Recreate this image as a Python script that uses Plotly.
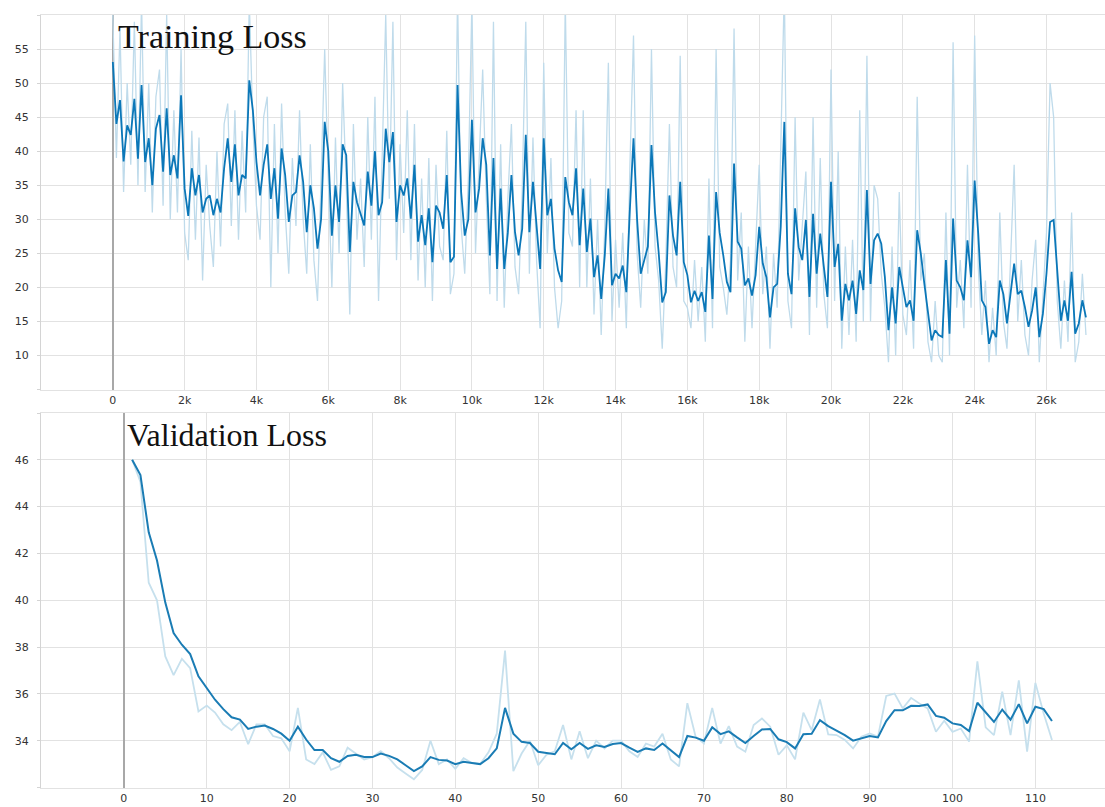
import plotly.graph_objects as go

# ---------------- data ----------------
train_steps = list(range(0, 27200, 100))

train_smoothed = [
    53.1, 44.0, 47.5, 38.5, 43.8, 42.4, 47.7, 38.9, 49.7, 38.4,
    41.9, 35.0, 43.3, 45.3, 37.0, 46.3, 36.5, 39.4, 36.0, 48.2,
    34.5, 30.5, 37.5, 33.5, 36.5, 31.0, 33.0, 33.5, 30.6, 33.0,
    31.0, 37.5, 41.9, 35.5, 41.0, 33.5, 36.5, 36.0, 50.4, 46.0,
    38.4, 33.5, 38.0, 41.0, 33.0, 37.5, 30.1, 40.4, 36.5, 29.6,
    33.5, 34.0, 39.4, 35.5, 28.1, 35.0, 31.6, 25.7, 30.0, 44.3,
    40.0, 27.6, 35.0, 29.6, 41.0, 39.4, 25.2, 35.5, 32.5, 30.6,
    29.1, 37.0, 32.0, 40.0, 30.6, 32.5, 43.3, 38.4, 42.8, 29.6,
    35.0, 33.5, 36.0, 30.1, 38.0, 26.7, 30.6, 26.2, 31.6, 23.7,
    32.0, 31.0, 28.6, 36.5, 23.7, 24.5, 49.7, 34.0, 27.6, 30.0,
    44.6, 31.0, 34.5, 41.9, 38.0, 24.7, 39.0, 22.7, 34.5, 22.7,
    28.0, 36.5, 28.1, 24.7, 28.6, 42.4, 28.1, 35.5, 28.6, 22.7,
    41.9, 30.6, 33.0, 25.7, 22.5, 20.8, 36.2, 32.5, 30.6, 37.5,
    26.2, 34.5, 25.2, 30.1, 21.5, 24.7, 18.3, 24.7, 34.5, 20.3,
    22.0, 21.3, 23.2, 19.3, 31.6, 41.9, 30.0, 22.0, 24.0, 26.0,
    40.9, 31.0, 25.2, 17.8, 19.3, 33.5, 27.6, 24.7, 35.5, 23.7,
    21.8, 17.8, 19.5, 18.0, 19.3, 16.4, 27.6, 18.3, 34.0, 28.0,
    24.7, 20.8, 19.3, 38.2, 26.7, 25.7, 20.3, 21.3, 18.8, 21.8,
    28.9, 23.5, 21.5, 15.6, 20.0, 20.5, 28.9, 44.3, 22.0, 19.0,
    31.6, 25.9, 24.0, 29.9, 18.6, 30.8, 22.0, 27.9, 23.0, 18.6,
    35.5, 23.0, 26.4, 15.1, 20.5, 18.1, 21.0, 16.1, 22.5, 19.6,
    34.3, 20.5, 26.9, 27.9, 26.4, 21.5, 13.7, 20.0, 14.7, 23.0,
    20.0, 17.1, 18.1, 15.1, 28.4, 25.0, 20.5, 16.6, 12.2, 13.7,
    13.0, 12.7, 24.0, 13.2, 30.1, 21.0, 20.0, 18.1, 26.9, 21.5,
    35.7, 27.9, 18.1, 17.1, 11.7, 13.7, 12.7, 21.0, 19.0, 14.7,
    19.5, 23.5, 19.0, 19.5, 17.1, 14.2, 16.6, 20.0, 12.7, 16.1,
    22.0, 29.6, 29.9, 22.0, 15.1, 18.1, 15.1, 22.3, 13.2, 14.7,
    18.1, 15.6,
]

train_raw = [
    60, 39, 58, 34, 50, 38, 59, 35, 62, 34,
    50, 31, 48, 52, 32, 60, 30, 46, 31, 55,
    28, 24, 43, 27, 42, 21, 38, 29, 23, 40,
    26, 44, 47, 29, 46, 27, 43, 31, 62, 44,
    32, 27, 45, 48, 20, 44, 25, 47, 31, 22,
    39, 29, 46, 30, 22, 41, 24, 18, 36, 55,
    36, 20, 42, 25, 50, 35, 16, 44, 27, 36,
    23, 45, 27, 48, 18, 38, 60, 33, 59, 24,
    41, 28, 46, 24, 44, 21, 36, 20, 39, 18,
    38, 26, 24, 43, 19, 22, 63, 29, 22, 36,
    62, 25, 40, 52, 33, 19, 59, 18, 41, 17,
    33, 44, 23, 19, 34, 59, 22, 42, 24, 14,
    53, 25, 39, 20, 14, 18, 62, 28, 26, 46,
    20, 46, 20, 36, 16, 30, 13, 29, 53, 15,
    27, 17, 28, 14, 38, 57, 25, 17, 30, 22,
    55, 26, 21, 11, 24, 44, 23, 20, 54, 18,
    17, 14, 24, 15, 23, 12, 36, 14, 55, 23,
    20, 16, 24, 58, 21, 31, 12, 26, 14, 27,
    38, 19, 26, 11, 25, 17, 40, 64, 18, 14,
    45, 21, 29, 37, 13, 45, 17, 39, 19, 14,
    52, 18, 40, 11, 26, 13, 27, 12, 46, 15,
    54, 15, 35, 33, 22, 17, 9, 26, 10, 34,
    16, 13, 24, 11, 48, 21, 25, 12, 9, 18,
    10, 9, 31, 10, 56, 17, 24, 14, 38, 17,
    57, 23, 13, 21, 9, 17, 10, 31, 15, 11,
    24, 38, 15, 24, 13, 10, 21, 27, 9, 19,
    28, 50, 45, 18, 11, 21, 12, 31, 9, 12,
    22, 13,
]

val_epochs = list(range(1, 113))

val_smoothed = [
    46.0, 45.35, 42.9, 41.7, 39.9, 38.6, 38.1, 37.7, 36.75, 36.25,
    35.75, 35.35, 35.0, 34.9, 34.5, 34.6, 34.65, 34.5, 34.3, 34.0,
    34.6, 34.05, 33.6, 33.6, 33.25, 33.1, 33.35, 33.4, 33.3, 33.3,
    33.45, 33.35, 33.2, 32.95, 32.7, 32.9, 33.3, 33.18, 33.15, 33.0,
    33.1, 33.05, 33.0, 33.25, 33.67, 35.4, 34.3, 33.95, 33.9, 33.53,
    33.46, 33.42, 33.9, 33.63, 33.9, 33.65, 33.8, 33.73, 33.86, 33.9,
    33.7, 33.52, 33.67, 33.6, 33.88, 33.6, 33.3, 34.2, 34.13, 34.0,
    34.57, 34.28, 34.4, 34.14, 33.9, 34.2, 34.48, 34.5, 34.06, 33.94,
    33.67, 34.28, 34.3, 34.88, 34.62, 34.43, 34.24, 34.0, 34.1, 34.2,
    34.14, 34.84, 35.3, 35.3, 35.49, 35.48, 35.55, 35.06, 34.98, 34.74,
    34.67, 34.41, 35.62, 35.2, 34.8, 35.33, 34.9, 35.56, 34.74, 35.45,
    35.35, 34.84,
]

val_raw = [
    46.0, 45.05, 40.75, 40.0, 37.6, 36.8, 37.5, 37.1, 35.25, 35.5,
    35.2, 34.7, 34.45, 34.8, 33.85, 34.7, 34.7, 34.2, 34.1, 33.55,
    35.4, 33.2, 33.0, 33.5, 32.75, 32.9, 33.7, 33.45, 33.2, 33.3,
    33.55, 33.25, 32.85, 32.6, 32.35, 32.75, 34.0, 33.0, 33.2, 32.8,
    33.25, 33.05, 33.0, 33.5, 34.3, 37.85, 32.7, 33.45, 34.0, 32.95,
    33.4, 33.55, 34.67, 33.2, 34.4, 33.25, 34.0, 33.67, 34.0, 34.0,
    33.55, 33.3, 33.88, 33.75, 34.3, 33.2, 32.9, 35.6, 34.17, 33.88,
    35.4, 33.88, 34.62, 33.75, 33.53, 34.67, 34.95, 34.6, 33.4, 33.8,
    33.2, 35.2, 34.45, 35.76, 34.27, 34.24, 34.03, 33.67, 34.17, 34.31,
    34.17, 35.91, 36.01, 35.38, 35.83, 35.59, 35.38, 34.38, 34.85, 34.38,
    34.52, 33.96, 37.39, 34.57, 34.24, 36.09, 34.24, 36.58, 33.53, 36.47,
    35.16, 34.03,
]

train_xtick_vals = [0, 2000, 4000, 6000, 8000, 10000, 12000, 14000,
                    16000, 18000, 20000, 22000, 24000, 26000]
train_xtick_text = ["0", "2k", "4k", "6k", "8k", "10k", "12k", "14k",
                    "16k", "18k", "20k", "22k", "24k", "26k"]
train_ytick_vals = [5, 10, 15, 20, 25, 30, 35, 40, 45, 50, 55, 60]
train_ytick_text = ["", "10", "15", "20", "25", "30", "35", "40", "45", "50", "55", ""]

val_xtick_vals = [0, 10, 20, 30, 40, 50, 60, 70, 80, 90, 100, 110]
val_xtick_text = ["0", "10", "20", "30", "40", "50", "60", "70", "80", "90", "100", "110"]
val_ytick_vals = [32, 34, 36, 38, 40, 42, 44, 46, 48]
val_ytick_text = ["", "34", "36", "38", "40", "42", "44", "46", ""]

# ---------------- figure ----------------
W, H = 1105, 807
GRID = "#e2e2e2"
AXLINE = "#d4d4d4"
ZERO = "#a8a8a8"
TICKFONT = dict(family="DejaVu Sans", size=11, color="#333333")

fig = go.Figure()

fig.add_trace(go.Scatter(x=train_steps, y=train_raw, mode="lines",
                         line=dict(color="#bfdbeb", width=1.3),
                         xaxis="x", yaxis="y", hoverinfo="skip"))
fig.add_trace(go.Scatter(x=train_steps, y=train_smoothed, mode="lines",
                         line=dict(color="#0b77b8", width=1.8),
                         xaxis="x", yaxis="y", hoverinfo="skip"))
fig.add_trace(go.Scatter(x=val_epochs, y=val_raw, mode="lines",
                         line=dict(color="#c6e0ed", width=1.8),
                         xaxis="x2", yaxis="y2", hoverinfo="skip"))
fig.add_trace(go.Scatter(x=val_epochs, y=val_smoothed, mode="lines",
                         line=dict(color="#1a7cb4", width=2),
                         xaxis="x2", yaxis="y2", hoverinfo="skip"))

xdom = [41 / W, 1.0]
top_dom = [1 - 389.5 / H, 1 - 15 / H]
bot_dom = [1 - 787.5 / H, 1 - 413 / H]

common_x = dict(showgrid=True, gridcolor=GRID, gridwidth=1,
                zeroline=True, zerolinecolor=ZERO, zerolinewidth=1.5,
                showline=True, mirror=True, linecolor=GRID, linewidth=1,
                ticks="", tickfont=TICKFONT, fixedrange=True)
common_y = dict(showgrid=True, gridcolor=GRID, gridwidth=1, zeroline=False,
                showline=True, mirror=False, linecolor=AXLINE, linewidth=1,
                ticks="outside", ticklen=3, tickcolor=AXLINE, tickwidth=1,
                ticklabelstandoff=6, tickfont=TICKFONT, fixedrange=True)

fig.update_layout(
    width=W, height=H,
    margin=dict(l=0, r=0, t=0, b=0),
    paper_bgcolor="white", plot_bgcolor="white",
    template="none",
    showlegend=False,
    hovermode=False,
    xaxis=dict(domain=xdom, anchor="y", range=[-2000, 27630],
               tickmode="array", tickvals=train_xtick_vals, ticktext=train_xtick_text,
               **common_x),
    yaxis=dict(domain=top_dom, anchor="x", range=[5, 60],
               tickmode="array", tickvals=train_ytick_vals, ticktext=train_ytick_text,
               **common_y),
    xaxis2=dict(domain=xdom, anchor="y2", range=[-10, 118.4],
                tickmode="array", tickvals=val_xtick_vals, ticktext=val_xtick_text,
                **common_x),
    yaxis2=dict(domain=bot_dom, anchor="x2", range=[32, 48],
                tickmode="array", tickvals=val_ytick_vals, ticktext=val_ytick_text,
                **common_y),
    annotations=[
        dict(text="Training Loss", xref="paper", yref="paper",
             x=116 / W, y=1 - 37 / H, xanchor="left", yanchor="middle",
             showarrow=False,
             font=dict(family="Liberation Serif", size=34, color="#111111")),
        dict(text="Validation Loss", xref="paper", yref="paper",
             x=125 / W, y=1 - 435 / H, xanchor="left", yanchor="middle",
             showarrow=False,
             font=dict(family="Liberation Serif", size=32, color="#111111")),
    ],
)

fig.write_html("out.html")
